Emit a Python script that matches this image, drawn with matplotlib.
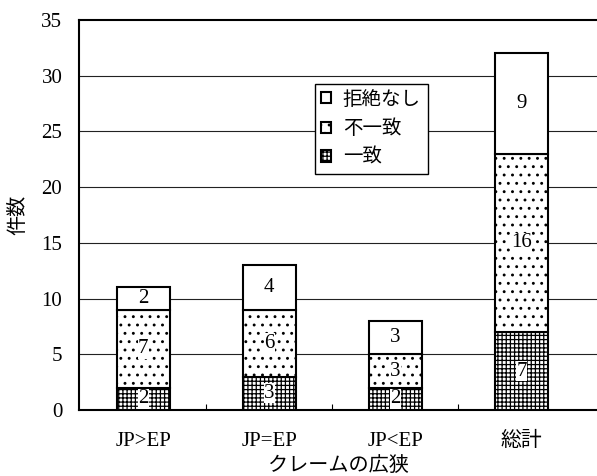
import matplotlib
matplotlib.use("Agg")
import matplotlib.pyplot as plt
import numpy as np

plt.rcParams['font.family'] = ['Liberation Serif', 'Noto Sans CJK JP']
plt.rcParams['hatch.linewidth'] = 0.9

categories = ['JP>EP', 'JP=EP', 'JP<EP', '総計']
match = [2, 3, 2, 7]          # 一致
mismatch = [7, 6, 3, 16]      # 不一致
no_reject = [2, 4, 3, 9]      # 拒絶なし

fig = plt.figure(figsize=(5.97, 4.76), dpi=100)
ax = fig.add_axes([79 / 597, 66 / 476, 518 / 597, 390 / 476])

x = np.arange(len(categories))
w = 0.42
bot2 = np.array(match)
bot3 = bot2 + np.array(mismatch)

b1 = ax.bar(x, match, w, color='white', edgecolor='black', hatch='++++',
            linewidth=1.5, label='一致', zorder=3)
b2 = ax.bar(x, mismatch, w, bottom=bot2, color='white', edgecolor='black',
            hatch='..', linewidth=1.5, label='不一致', zorder=3)
b3 = ax.bar(x, no_reject, w, bottom=bot3, color='white', edgecolor='black',
            linewidth=1.5, label='拒絶なし', zorder=3)

# value labels in the middle of each segment
for vals, bottoms in [(match, np.zeros(4)), (mismatch, bot2), (no_reject, bot3)]:
    for xi, v, b in zip(x, vals, bottoms):
        ax.text(xi, b + v / 2, str(v), ha='center', va='center', fontsize=15,
                zorder=5, bbox=dict(facecolor='white', edgecolor='none', pad=0.3))

ax.set_ylim(0, 35)
ax.set_xlim(-0.51, 3.6)
ax.set_yticks(range(0, 36, 5))
ax.set_xticks(x)
ax.set_xticklabels(categories)
ax.set_xticks([0.5, 1.5, 2.5], minor=True)
ax.tick_params(axis='both', which='major', length=0, labelsize=15)
ax.tick_params(axis='y', pad=12)
ax.tick_params(axis='x', pad=16)
ax.tick_params(axis='x', which='minor', direction='in', length=4, width=0.8)

for yv in range(5, 35, 5):
    ax.axhline(yv, color='#222222', linewidth=0.8, zorder=1)

for s in ['left', 'bottom', 'top']:
    ax.spines[s].set_linewidth(1.5)
ax.spines['right'].set_visible(False)

ax.set_xlabel('クレームの広狭', fontsize=14.5, labelpad=4)
ax.set_ylabel('件数', fontsize=14.5, labelpad=9)

leg = ax.legend(handles=[b3, b2, b1], loc='upper left',
                bbox_to_anchor=(0.455, 0.836), fontsize=14, frameon=True,
                fancybox=False, edgecolor='black', framealpha=1,
                handlelength=0.5, handleheight=0.5, handletextpad=0.6,
                labelspacing=0.55, borderpad=0.35, borderaxespad=0)
leg.get_frame().set_linewidth(1.0)
leg.set_zorder(6)

fig.savefig('out.png', dpi=100)
